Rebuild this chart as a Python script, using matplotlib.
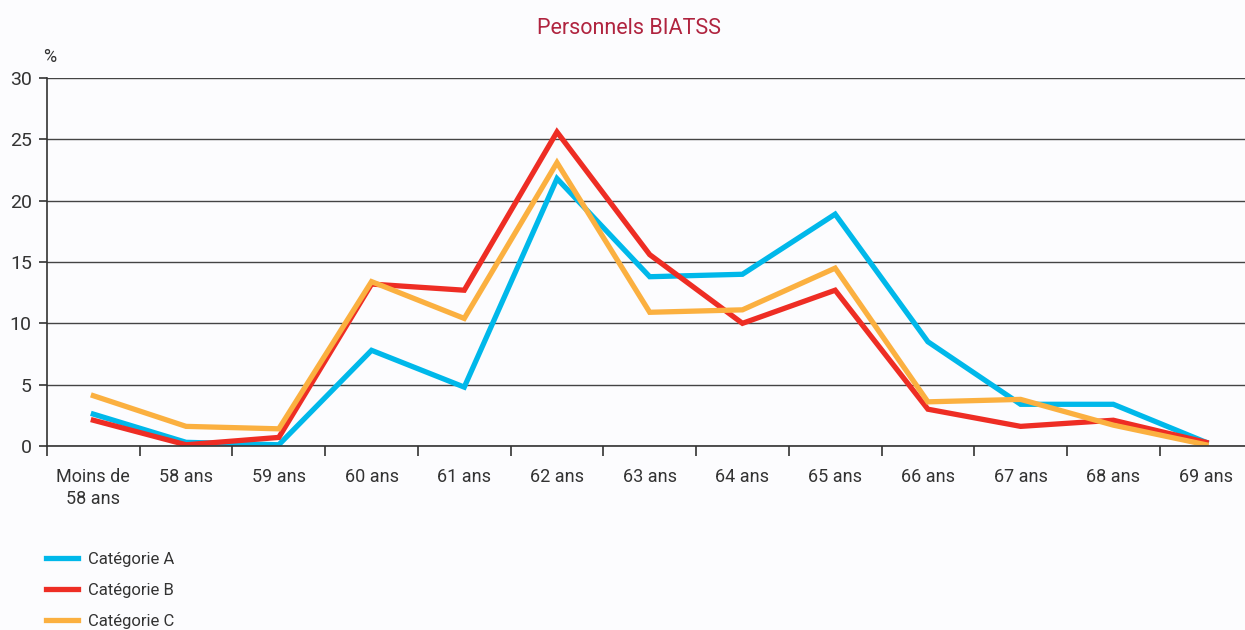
import numpy as np
import matplotlib
matplotlib.use("Agg")
import matplotlib.pyplot as plt
from matplotlib.ticker import FixedLocator

plt.rcParams['font.family'] = ['Roboto', 'DejaVu Sans']

# data (%)
categories = ['Moins de\n58 ans', '58 ans', '59 ans', '60 ans', '61 ans', '62 ans', '63 ans',
              '64 ans', '65 ans', '66 ans', '67 ans', '68 ans', '69 ans']
cat_a = [2.6, 0.3, 0.1, 7.8, 4.8, 21.8, 13.8, 14.0, 18.9, 8.5, 3.4, 3.4, 0.3]
cat_b = [2.1, 0.1, 0.7, 13.2, 12.7, 25.6, 15.6, 10.0, 12.7, 3.0, 1.6, 2.1, 0.3]
cat_c = [4.1, 1.6, 1.4, 13.4, 10.4, 23.1, 10.9, 11.1, 14.5, 3.6, 3.8, 1.7, 0.1]
series_names = ['Catégorie A', 'Catégorie B', 'Catégorie C']
colors = ['#00B8EA', '#EE2D24', '#FBB040']

bg = '#FCFCFE'
fig = plt.figure(figsize=(12.45, 6.3), dpi=100, facecolor=bg)
ax = fig.add_axes([47 / 1245, 1 - 446 / 630, 1198 / 1245, 368 / 630], facecolor=bg)

x = np.arange(len(categories))
for vals, name, c in zip([cat_a, cat_b, cat_c], series_names, colors):
    ax.plot(x, vals, color=c, lw=3.8, label=name, solid_joinstyle='miter')

ax.set_xlim(-0.5, 12.42)
ax.set_ylim(0, 30)
ax.set_yticks(np.arange(0, 31, 5))
ax.yaxis.grid(True, color='#444444', lw=1.0)
ax.set_axisbelow(True)
for s in ['top', 'right']:
    ax.spines[s].set_visible(False)
for s in ['left', 'bottom']:
    ax.spines[s].set_color('#333333')
    ax.spines[s].set_linewidth(1.2)

ax.set_xticks(x)
ax.set_xticklabels(categories, fontsize=13, color='#333333', linespacing=1.3)
ax.tick_params(axis='x', which='major', length=0, pad=16)
ax.xaxis.set_minor_locator(FixedLocator(np.arange(-0.5, 12.6, 1)))
ax.tick_params(axis='x', which='minor', length=7, width=1.2, color='#333333')
ax.tick_params(axis='y', length=6, width=1.2, color='#333333', labelsize=14,
               labelcolor='#333333', pad=5)

fig.text(43 / 1245, 1 - 57 / 630, '%', fontsize=13, color='#333333', va='center')
fig.text(629 / 1245, 1 - 29 / 630, 'Personnels BIATSS', fontsize=15.5, color='#B0243F',
         ha='center', va='center')

fig.legend(loc='upper left', bbox_to_anchor=(31 / 1245, 1 - 537 / 630), frameon=False,
           fontsize=12, handlelength=1.9, handletextpad=0.6, labelspacing=0.95,
           labelcolor='#333333')

fig.savefig('out.png', dpi=100, facecolor=bg)
